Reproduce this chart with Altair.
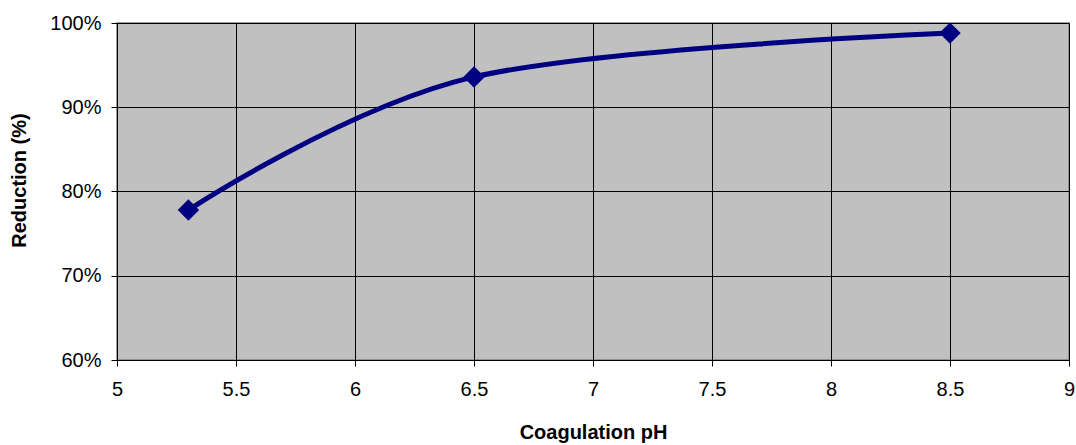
import altair as alt
import pandas as pd

ph = [5.3, 6.5, 8.5]
reduction = [0.778, 0.936, 0.988]
x_ticks = [5, 5.5, 6, 6.5, 7, 7.5, 8, 8.5, 9]
y_ticks = [0.6, 0.7, 0.8, 0.9, 1.0]

df = pd.DataFrame({"ph": ph, "reduction": reduction})

FONT = "Liberation Sans"
NAVY = "#000080"

x = alt.X(
    "ph:Q",
    scale=alt.Scale(domain=[5, 9], nice=False, zero=False),
    axis=alt.Axis(
        title="Coagulation pH",
        values=x_ticks,
        format="~g",
        grid=True,
        gridColor="#000000",
        gridWidth=1,
        domainColor="#000000",
        tickColor="#000000",
        tickSize=6,
        labelPadding=13,
        labelFont=FONT,
        labelFontSize=20,
        labelColor="#000000",
        titleFont=FONT,
        titleFontSize=20,
        titleFontWeight="bold",
        titleColor="#000000",
        titleY=78,
        titleBaseline="alphabetic",
        labelFlush=False,
    ),
)
y = alt.Y(
    "reduction:Q",
    scale=alt.Scale(domain=[0.6, 1.0], nice=False, zero=False),
    axis=alt.Axis(
        title="Reduction (%)",
        values=y_ticks,
        format=".0%",
        grid=True,
        gridColor="#000000",
        gridWidth=1,
        domainColor="#000000",
        tickColor="#000000",
        tickSize=6,
        labelPadding=10,
        labelFont=FONT,
        labelFontSize=20,
        labelColor="#000000",
        titleFont=FONT,
        titleFontSize=20,
        titleFontWeight="bold",
        titleColor="#000000",
        titleAngle=-90,
        titleX=-98,
        titleY=157,
        titleAlign="center",
        titleBaseline="middle",
        labelFlush=False,
    ),
)

line = alt.Chart(df).mark_line(
    color=NAVY, strokeWidth=5, interpolate="cardinal"
).encode(x=x, y=y)

points = alt.Chart(df).mark_point(
    shape="diamond", filled=True, color=NAVY, size=460, opacity=1
).encode(x="ph:Q", y="reduction:Q")

chart = (
    alt.layer(line, points)
    .properties(
        width=952,
        height=337,
        autosize=alt.AutoSizeParams(type="none"),
        padding={"left": 117, "top": 23, "right": 7, "bottom": 85},
        background="#ffffff",
    )
    .configure_view(fill="#C0C0C0", stroke="#808080", strokeWidth=1.5)
)

chart.save("out.html", embed_options={"renderer": "svg", "actions": False})
